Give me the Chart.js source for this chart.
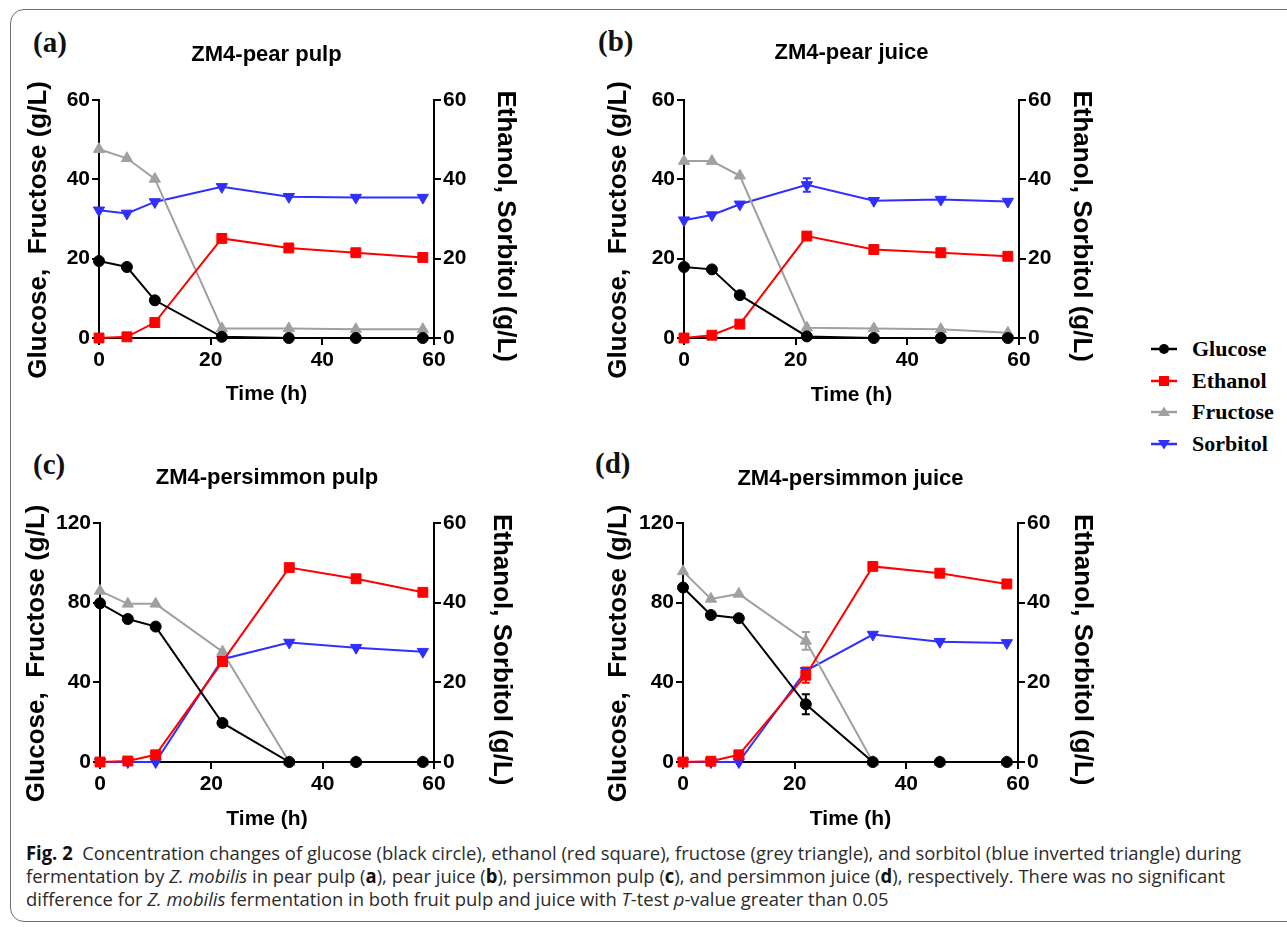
<!DOCTYPE html>
<html>
<head>
<meta charset="utf-8">
<script src="https://cdn.jsdelivr.net/npm/chart.js@4.4.0/dist/chart.umd.min.js"></script>
<style>
  body { margin: 0; width: 1287px; height: 927px; background: #fff; overflow: hidden; position: relative; }
  .frame { position: absolute; left: 10px; top: 9px; width: 1300px; height: 913px; border: 1.5px solid #6e6e6e; border-radius: 14px; box-sizing: border-box; }
  canvas { position: absolute; }
  .tag { position: absolute; font: bold 29px/30px "Liberation Serif", "Times New Roman", serif; color: #111; }
  .leg { position: absolute; left: 1151px; height: 26px; display: flex; align-items: center; }
  .leg span { margin-left: 15px; font: bold 22px "Liberation Serif", "Times New Roman", serif; color: #000; }
  .cap { position: absolute; left: 26px; font: 19px/23px "Open Sans", sans-serif; color: #2b2b2b; white-space: nowrap; transform-origin: 0 50%; }
  .cap b { color: #111; }
</style>
</head>
<body>
<div class="frame"></div>

<div class="tag" style="left:33px;top:27px">(a)</div>
<div class="tag" style="left:598px;top:26px">(b)</div>
<div class="tag" style="left:33px;top:449px">(c)</div>
<div class="tag" style="left:595px;top:448px">(d)</div>

<canvas id="pa" width="560" height="400"></canvas>
<canvas id="pb" width="560" height="400"></canvas>
<canvas id="pc" width="560" height="405"></canvas>
<canvas id="pd" width="560" height="405"></canvas>

<div id="legend"></div>

<div class="cap" style="top:842px"><b>Fig. 2</b>&nbsp; Concentration changes of glucose (black circle), ethanol (red square), fructose (grey triangle), and sorbitol (blue inverted triangle) during</div>
<div class="cap" style="top:865px">fermentation by <i>Z. mobilis</i> in pear pulp (<b>a</b>), pear juice (<b>b</b>), persimmon pulp (<b>c</b>), and persimmon juice (<b>d</b>), respectively. There was no significant</div>
<div class="cap" style="top:888px">difference for <i>Z. mobilis</i> fermentation in both fruit pulp and juice with <i>T</i>-test <i>p</i>-value greater than 0.05</div>

<script>
// sampling times (h)
const time = [0, 5, 10, 22, 34, 46, 58];

// (a) ZM4-pear pulp
const pearPulpGlucose  = [19.4, 17.9, 9.5, 0.3, 0, 0, 0];
const pearPulpEthanol  = [0, 0.3, 3.9, 25.1, 22.7, 21.5, 20.3];
const pearPulpFructose = [47.6, 45.3, 40.1, 2.4, 2.4, 2.2, 2.2];
const pearPulpSorbitol = [32.2, 31.4, 34.3, 38.1, 35.6, 35.4, 35.4];

// (b) ZM4-pear juice
const pearJuiceGlucose  = [17.9, 17.3, 10.8, 0.4, 0, 0, 0];
const pearJuiceEthanol  = [0, 0.7, 3.5, 25.7, 22.3, 21.5, 20.6];
const pearJuiceFructose = [44.6, 44.6, 40.9, 2.6, 2.4, 2.2, 1.3];
const pearJuiceSorbitol = [29.7, 31.0, 33.7, 38.6, 34.6, 34.9, 34.4];
const pearJuiceSorbitolErr = [0, 0, 0, 1.7, 0, 0, 0];

// (c) ZM4-persimmon pulp
const persPulpGlucose  = [79.7, 71.8, 68.0, 19.6, 0, 0, 0];
const persPulpEthanol  = [0, 0.25, 1.8, 25.2, 48.8, 46.0, 42.6];
const persPulpFructose = [85.9, 79.4, 79.4, 55.4, 0, 0, 0];
const persPulpSorbitol = [0, 0, 0, 25.8, 30.0, 28.7, 27.7];

// (d) ZM4-persimmon juice
const persJuiceGlucose  = [87.6, 73.8, 72.2, 29.0, 0, 0, 0];
const persJuiceEthanol  = [0, 0.2, 1.8, 21.8, 49.1, 47.4, 44.7];
const persJuiceFructose = [95.7, 81.9, 84.4, 60.8, 0, 0, 0];
const persJuiceSorbitol = [0, 0, 0, 22.9, 32.0, 30.2, 29.9];
const persJuiceGlucoseErr  = [0, 0, 0, 5.0, 0, 0, 0];
const persJuiceEthanolErr  = [0, 0, 0, 1.9, 0, 0, 0];
const persJuiceFructoseErr = [0, 0, 0, 4.5, 0, 0, 0];

const seriesNames = ['Glucose', 'Ethanol', 'Fructose', 'Sorbitol'];
const seriesColors = ['#000000', '#ff0000', '#a0a0a0', '#2f2fff'];

const FONT = '"Liberation Sans", Arial, Helvetica, sans-serif';
const lhTitle = 22 * 1.2, lhY = 26 * 1.2, lhX = 21 * 1.2;

// simple vertical error bars, drawn under the markers
const errorBars = {
    id: 'errorBars',
    beforeDatasetsDraw(chart) {
        const ctx = chart.ctx;
        chart.data.datasets.forEach(ds => {
            if (!ds.errors) return;
            const ys = chart.scales[ds.yAxisID];
            ds.errors.forEach((e, j) => {
                if (!e) return;
                const p = ds.data[j];
                const x = chart.scales.x.getPixelForValue(p.x);
                const y1 = ys.getPixelForValue(p.y + e);
                const y2 = ys.getPixelForValue(p.y - e);
                ctx.save();
                ctx.strokeStyle = ds.borderColor;
                ctx.lineWidth = 2;
                ctx.beginPath();
                ctx.moveTo(x, y1); ctx.lineTo(x, y2);
                ctx.moveTo(x - 4, y1); ctx.lineTo(x + 4, y1);
                ctx.moveTo(x - 4, y2); ctx.lineTo(x + 4, y2);
                ctx.stroke();
                ctx.restore();
            });
        });
    }
};

function axisStyle() {
    return {
        border: { display: true, color: '#000', width: 2 },
        grid: { drawOnChartArea: false, drawTicks: true, color: '#000', lineWidth: 2, tickLength: 7 },
    };
}

function makePanel(id, box, area, pos, title, leftMax, leftStep, values, errors) {
    const cv = document.getElementById(id);
    cv.style.left = box.left + 'px';
    cv.style.top = box.top + 'px';
    const W = cv.width, H = cv.height;

    const titleTop = pos.titleY - box.top - lhTitle / 2;
    const titleBottom = (area.top - box.top) - titleTop - lhTitle;

    const styles = [
        { style: 'circle', r: 5.5, rot: 0, axis: 'y' },
        { style: 'rect', r: 7, rot: 0, axis: 'y2' },
        { style: 'triangle', r: 6.5, rot: 0, axis: 'y' },
        { style: 'triangle', r: 6.5, rot: 180, axis: 'y2' },
    ];

    const datasets = values.map((vals, k) => ({
        label: seriesNames[k],
        data: time.map((t, i) => ({ x: t, y: vals[i] })),
        yAxisID: styles[k].axis,
        borderColor: seriesColors[k],
        backgroundColor: seriesColors[k],
        borderWidth: 2,
        pointStyle: styles[k].style,
        pointRotation: styles[k].rot,
        pointRadius: styles[k].r,
        pointBorderWidth: 1,
        clip: false,
        errors: errors ? errors[k] : null,
    }));

    const tickFont = { family: FONT, size: 21, weight: 'bold' };
    const yTitleFont = { family: FONT, size: 26, weight: 'bold', lineHeight: 1.2 };

    return new Chart(cv, {
        type: 'line',
        data: { datasets },
        options: {
            responsive: false,
            animation: false,
            layout: { padding: 0 },
            plugins: {
                legend: { display: false },
                tooltip: { enabled: false },
                title: {
                    display: true,
                    text: title,
                    fullSize: false,
                    color: '#000',
                    font: { family: FONT, size: 22, weight: 'bold', lineHeight: 1.2 },
                    padding: { top: titleTop, bottom: titleBottom },
                },
            },
            scales: {
                x: {
                    type: 'linear',
                    position: 'bottom',
                    min: 0, max: 60,
                    ...axisStyle(),
                    ticks: { stepSize: 20, padding: 3, color: '#000', font: tickFont, maxRotation: 0 },
                    title: {
                        display: true, text: 'Time (h)', color: '#000',
                        font: { family: FONT, size: 21, weight: 'bold', lineHeight: 1.2 },
                        padding: { top: 0, bottom: (box.top + H) - pos.timeY - lhX / 2 },
                    },
                    afterFit: s => { s.height = (box.top + H) - area.bottom; },
                },
                y: {
                    type: 'linear',
                    position: 'left',
                    min: 0, max: leftMax,
                    ...axisStyle(),
                    ticks: { stepSize: leftStep, padding: 2, color: '#000', font: tickFont },
                    title: {
                        // trailing spaces nudge the rotated title a little downwards
                        display: true, text: 'Glucose,  Fructose (g/L)   ', color: '#000',
                        font: yTitleFont,
                        padding: { top: pos.leftTitleX - box.left - lhY / 2, bottom: 0 },
                    },
                    afterFit: s => { s.width = area.left - box.left; },
                },
                y2: {
                    type: 'linear',
                    position: 'right',
                    min: 0, max: 60,
                    ...axisStyle(),
                    ticks: { stepSize: 20, padding: 2, color: '#000', font: tickFont },
                    title: {
                        display: true, text: '  Ethanol, Sorbitol (g/L)', color: '#000',
                        font: yTitleFont,
                        padding: { top: (box.left + W) - pos.rightTitleX - lhY / 2, bottom: 0 },
                    },
                    afterFit: s => { s.width = (box.left + W) - area.right; },
                },
            },
        },
        plugins: [errorBars],
    });
}

makePanel('pa',
    { left: 0, top: 20 }, { left: 99, right: 434, top: 100, bottom: 338 },
    { titleY: 55, leftTitleX: 39, rightTitleX: 505, timeY: 394 },
    'ZM4-pear pulp', 60, 20,
    [pearPulpGlucose, pearPulpEthanol, pearPulpFructose, pearPulpSorbitol]);

makePanel('pb',
    { left: 580, top: 20 }, { left: 684, right: 1019, top: 100, bottom: 338 },
    { titleY: 53, leftTitleX: 619, rightTitleX: 1081, timeY: 395 },
    'ZM4-pear juice', 60, 20,
    [pearJuiceGlucose, pearJuiceEthanol, pearJuiceFructose, pearJuiceSorbitol],
    [null, null, null, pearJuiceSorbitolErr]);

makePanel('pc',
    { left: 0, top: 430 }, { left: 100, right: 434, top: 523, bottom: 762 },
    { titleY: 478, leftTitleX: 37, rightTitleX: 501, timeY: 819 },
    'ZM4-persimmon pulp', 120, 40,
    [persPulpGlucose, persPulpEthanol, persPulpFructose, persPulpSorbitol]);

makePanel('pd',
    { left: 580, top: 430 }, { left: 683, right: 1018, top: 523, bottom: 762 },
    { titleY: 479, leftTitleX: 619, rightTitleX: 1082, timeY: 819 },
    'ZM4-persimmon juice', 120, 40,
    [persJuiceGlucose, persJuiceEthanol, persJuiceFructose, persJuiceSorbitol],
    [persJuiceGlucoseErr, persJuiceEthanolErr, persJuiceFructoseErr, null]);

// shared legend
const legendY = [349, 381, 412, 444];
const markerSvg = [
    '<circle cx="13" cy="8" r="5" fill="#000"/>',
    '<rect x="8" y="3" width="10" height="10" fill="#ff0000"/>',
    '<polygon points="13,2.5 19,12 7,12" fill="#a0a0a0"/>',
    '<polygon points="7,4 19,4 13,13.5" fill="#2f2fff"/>',
];
const legend = document.getElementById('legend');
seriesNames.forEach((name, k) => {
    const row = document.createElement('div');
    row.className = 'leg';
    row.style.top = (legendY[k] - 13) + 'px';
    row.innerHTML = '<svg width="26" height="16"><line x1="0" y1="8" x2="26" y2="8" stroke="' +
        seriesColors[k] + '" stroke-width="2.5"/>' + markerSvg[k] + '</svg><span>' + name + '</span>';
    legend.appendChild(row);
});

// the caption font is narrower than Open Sans: squeeze all lines by one factor
const caps = document.querySelectorAll('.cap');
const squeeze = 1215 / caps[0].getBoundingClientRect().width;
caps.forEach(el => { el.style.transform = 'scaleX(' + squeeze + ')'; });
</script>
</body>
</html>
